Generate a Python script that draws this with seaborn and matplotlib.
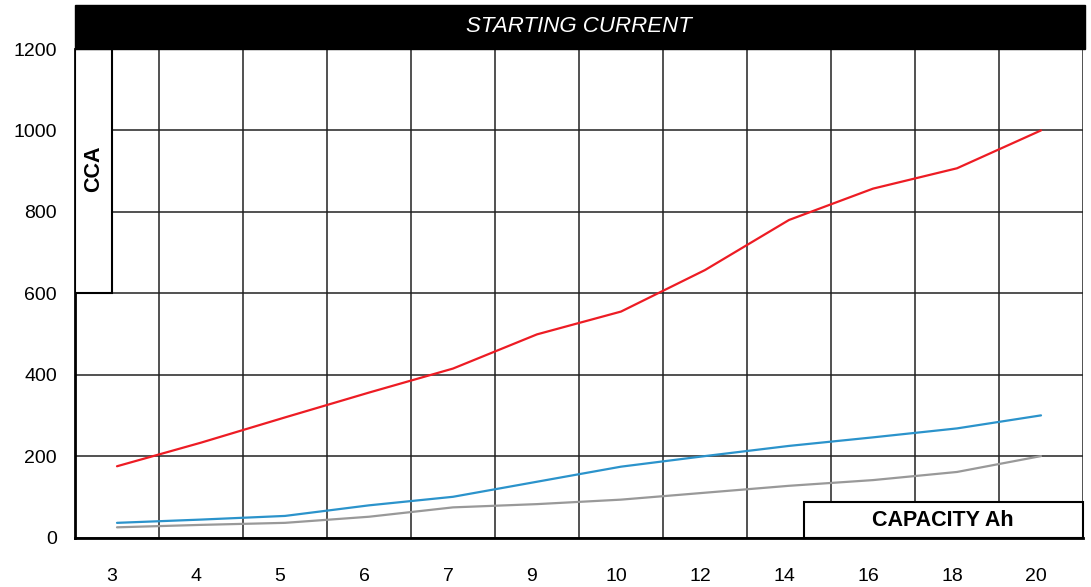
import pandas as pd
import seaborn as sns
import matplotlib.pyplot as plt
from matplotlib.patches import Rectangle

capacity = ["3", "4", "5", "6", "7", "9", "10", "12", "14", "16", "18", "20"]
red_vals = [175, 233, 295, 356, 415, 499, 555, 657, 780, 857, 907, 1000]
blue_vals = [36, 44, 53, 79, 100, 137, 174, 200, 225, 246, 268, 300]
gray_vals = [25, 31, 36, 51, 74, 82, 93, 110, 127, 141, 161, 200]
y_ticks = [0, 200, 400, 600, 800, 1000, 1200]

rows = []
for name, vals in [("red", red_vals), ("blue", blue_vals), ("gray", gray_vals)]:
    for i, v in enumerate(vals):
        rows.append({"pos": i, "cca": v, "series": name})
df = pd.DataFrame(rows)

sns.set_style("white")
plt.rcParams["font.family"] = ["Liberation Sans", "DejaVu Sans"]
plt.rcParams["text.color"] = "black"
plt.rcParams["xtick.color"] = "black"
plt.rcParams["ytick.color"] = "black"

fig = plt.figure(figsize=(10.91, 5.87), dpi=100)
ax = fig.add_axes([75 / 1091, 1 - 537.5 / 587, 1008 / 1091, 488.5 / 587])

sns.lineplot(data=df, x="pos", y="cca", hue="series",
             palette={"red": "#ed1c24", "blue": "#2b93cb", "gray": "#999999"},
             linewidth=1.6, legend=False, ax=ax, zorder=3)

ax.set_xlim(-0.5, 11.5)
ax.set_ylim(0, 1200)
ax.set_xlabel("")
ax.set_ylabel("")

# labels at category centres, grid/ticks at the cell borders
ax.set_xticks([i - 0.06 for i in range(len(capacity))])
ax.set_xticklabels(capacity, fontsize=14)
ax.set_xticks([i + 0.5 for i in range(len(capacity))], minor=True)
ax.tick_params(axis="x", which="major", length=0, pad=22)
ax.tick_params(axis="x", which="minor", length=15, width=1.1, color="#222222", direction="out")
ax.set_yticks(y_ticks)
ax.set_yticklabels([str(t) for t in y_ticks], fontsize=14)
ax.tick_params(axis="y", which="major", length=10, width=1.1, color="#222222", direction="out", pad=3)

ax.grid(False)
ax.grid(True, axis="x", which="minor", color="#222222", linewidth=1.1)
ax.grid(True, axis="y", which="major", color="#222222", linewidth=1.1)

for side in ["top", "right"]:
    ax.spines[side].set_visible(False)
for side in ["left", "bottom"]:
    ax.spines[side].set_color("black")
    ax.spines[side].set_linewidth(2)

# title bar
ax.add_patch(Rectangle((0, 1), 1.002, 44 / 488.5, transform=ax.transAxes,
                       facecolor="black", edgecolor="black", clip_on=False, zorder=5))
ax.text(0.5, 1 + 22 / 488.5, "STARTING CURRENT", transform=ax.transAxes,
        color="white", fontsize=16, fontstyle="italic", ha="center", va="center", zorder=6)

# CCA box
ax.add_patch(Rectangle((0, 0.5), 37 / 1008, 0.5, transform=ax.transAxes,
                       facecolor="white", edgecolor="black", linewidth=1.5, zorder=4))
ax.text(19 / 1008, 0.755, "CCA", transform=ax.transAxes, rotation=90,
        fontsize=15.5, fontweight="bold", ha="center", va="center", zorder=6)

# CAPACITY Ah box
ax.add_patch(Rectangle((729 / 1008, 0), 279 / 1008, 35.5 / 488.5, transform=ax.transAxes,
                       facecolor="white", edgecolor="black", linewidth=1.5, zorder=4, clip_on=False))
ax.text(868 / 1008, 17.5 / 488.5, "CAPACITY Ah", transform=ax.transAxes,
        fontsize=15.5, fontweight="bold", ha="center", va="center", zorder=6)

fig.savefig("out.png", dpi=100)
